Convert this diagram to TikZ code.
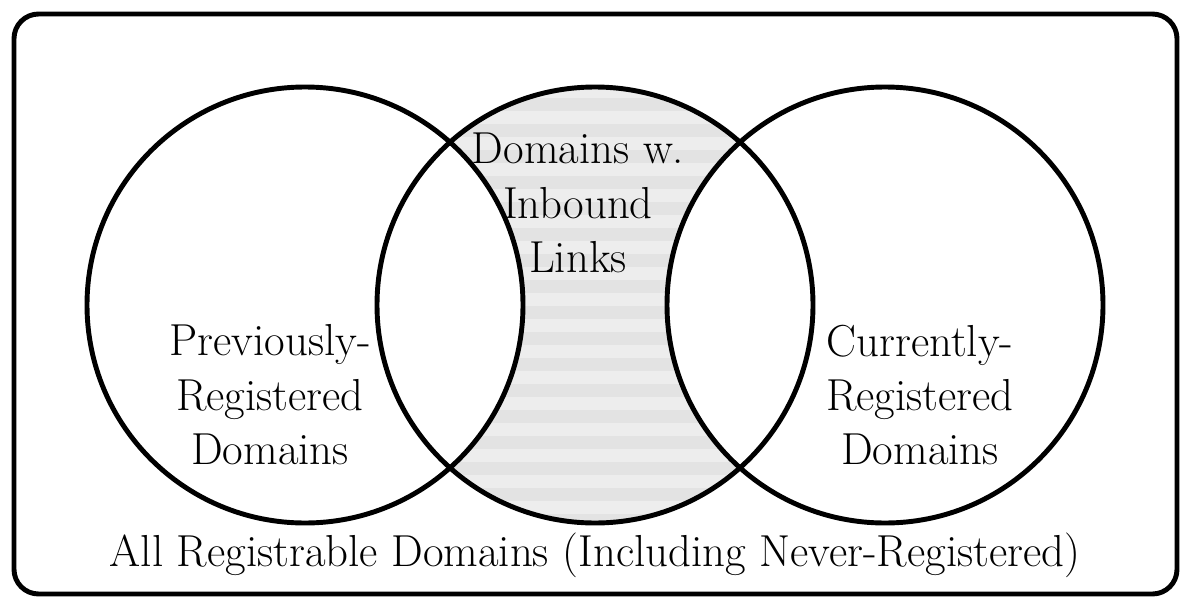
\documentclass[tikz,border=0pt]{standalone}
\usepackage{tikz}
\usetikzlibrary{positioning}

\begin{document}
\begin{tikzpicture}[
  venn/.style={draw, circle, line width=2.8pt, minimum size=8.72cm, inner sep=0pt},
  lbl/.style={align=center, font=\fontsize{25.5}{31}\selectfont},
  frame/.style={draw, line width=2.8pt, rounded corners=14pt}
]
\useasboundingbox (0,0) rectangle (23.9,12.14);

% striped overlap region
\begin{scope}
  \clip (11.9,6.04) circle (4.36);
  \fill[gray!14] (7.4,1.5) rectangle (16.4,10.6);
  \foreach \y in {1.6,2.12,...,10.6}
    \fill[gray!22] (7.4,\y) rectangle (16.4,\y+0.26);
  \fill[white] (6.1,6.04) circle (4.36);
  \fill[white] (17.7,6.04) circle (4.36);
\end{scope}

\draw[frame] (0.28,0.26) rectangle (23.54,11.86);

\node[venn] (prev) at (6.1,6.04) {};
\node[venn] (links) at (11.9,6.04) {};
\node[venn] (curr) at (17.7,6.04) {};

\node[lbl] (linkstxt) at (11.56,8.08) {Domains w.\\Inbound\\Links};
\node[lbl] (prevtxt) at (5.4,4.24) {Previously-\\Registered\\Domains};
\node[lbl] (currtxt) at (18.4,4.24) {Currently-\\Registered\\Domains};
\node[lbl] (alltxt) at (11.9,1.04) {All Registrable Domains (Including Never-Registered)};

\end{tikzpicture}
\end{document}
